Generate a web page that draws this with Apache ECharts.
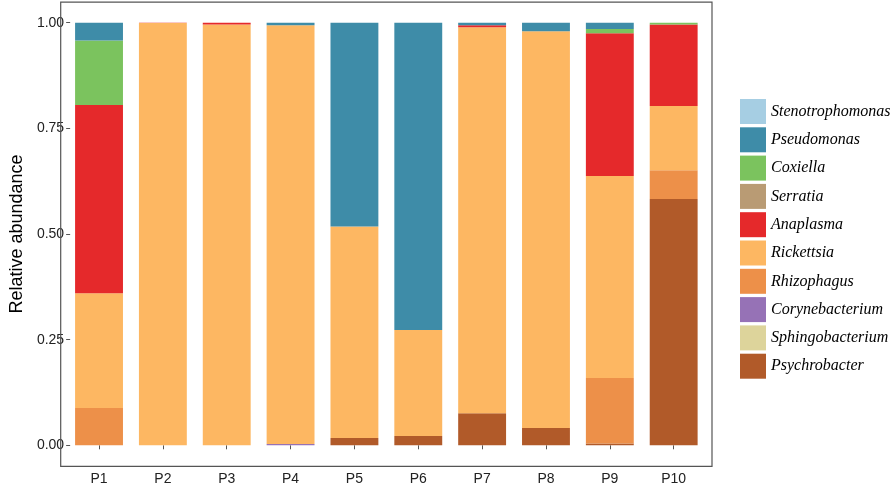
<!DOCTYPE html>
<html>
<head>
<meta charset="utf-8">
<script src="https://cdn.jsdelivr.net/npm/echarts@6/dist/echarts.min.js"></script>
<style>html,body{margin:0;padding:0;background:#fff;}#c{width:896px;height:488px;}</style>
</head>
<body>
<div id="c"></div>
<script>
// Categories (samples)
const samples = ['P1','P2','P3','P4','P5','P6','P7','P8','P9','P10'];
// Legend order (top to bottom)
const legendOrder = ['Stenotrophomonas','Pseudomonas','Coxiella','Serratia','Anaplasma','Rickettsia','Rhizophagus','Corynebacterium','Sphingobacterium','Psychrobacter'];
// Relative abundance per genus (P1..P10)
const Psychrobacter    = [0,     0,     0,     0,     0.017, 0.022, 0.076, 0.041, 0.004, 0.583];
const Sphingobacterium = [0,     0,     0,     0,     0,     0,     0,     0,     0,     0];
const Corynebacterium  = [0,     0,     0,     0.003, 0,     0,     0,     0,     0,     0];
const Rhizophagus      = [0.088, 0,     0,     0,     0,     0,     0,     0,     0.155, 0.068];
const Rickettsia       = [0.272, 0.999, 0.996, 0.991, 0.501, 0.251, 0.913, 0.939, 0.478, 0.152];
const Anaplasma        = [0.445, 0.001, 0.004, 0,     0,     0,     0.005, 0,     0.338, 0.193];
const Serratia         = [0,     0,     0,     0,     0,     0,     0,     0,     0,     0];
const Coxiella         = [0.153, 0,     0,     0,     0,     0,     0,     0,     0.010, 0.004];
const Pseudomonas      = [0.042, 0,     0,     0.006, 0.482, 0.727, 0.006, 0.020, 0.015, 0];
const Stenotrophomonas = [0,     0,     0,     0,     0,     0,     0,     0,     0,     0];
// Y tick labels
const yTicks = [0, 0.25, 0.5, 0.75, 1];

const stackOrder = [
  ['Psychrobacter', Psychrobacter, '#b15a29'],
  ['Sphingobacterium', Sphingobacterium, '#ddd49b'],
  ['Corynebacterium', Corynebacterium, '#9672b6'],
  ['Rhizophagus', Rhizophagus, '#ed9049'],
  ['Rickettsia', Rickettsia, '#fdb762'],
  ['Anaplasma', Anaplasma, '#e5292b'],
  ['Serratia', Serratia, '#b99b74'],
  ['Coxiella', Coxiella, '#7bc35e'],
  ['Pseudomonas', Pseudomonas, '#3e8ca8'],
  ['Stenotrophomonas', Stenotrophomonas, '#a6cee3']
];

const font = 'Liberation Sans, Arial, sans-serif';
const chart = echarts.init(document.getElementById('c'), null, {renderer: 'canvas'});
const panelLeft = 60.7, panelRight = 712;
const gridLeft = 67.1, gridRight = 705.6, gridTop = 22.7, gridBottom = 445.3;
chart.setOption({
  animation: false,
  backgroundColor: '#ffffff',
  grid: [
    {left: gridLeft, top: gridTop, width: gridRight - gridLeft, height: gridBottom - gridTop},
    {left: panelLeft, top: gridTop, width: panelRight - panelLeft, height: gridBottom - gridTop}
  ],
  xAxis: [{
    type: 'category',
    gridIndex: 0,
    data: samples,
    offset: 21,
    axisLine: {show: false},
    axisTick: {show: true, alignWithLabel: true, length: 4, lineStyle: {color: '#555', width: 1}},
    axisLabel: {color: '#222', fontSize: 14, fontFamily: font, margin: 6}
  }, {
    type: 'value', gridIndex: 1, show: false, min: 0, max: 1
  }],
  yAxis: [{
    type: 'value', gridIndex: 0, show: false, min: 0, max: 1
  }, {
    type: 'value',
    gridIndex: 1,
    min: 0, max: 1, interval: 0.25,
    name: 'Relative abundance',
    nameLocation: 'middle',
    nameGap: 38,
    nameTextStyle: {color: '#000', fontSize: 18, fontFamily: font},
    axisLine: {show: false},
    axisTick: {show: true, length: 4, lineStyle: {color: '#555', width: 1}},
    splitLine: {show: false},
    axisLabel: {color: '#222', fontSize: 14, fontFamily: font, margin: 6,
      formatter: v => yTicks.indexOf(v) >= 0 ? v.toFixed(2) : ''}
  }],
  legend: {
    orient: 'vertical',
    left: 735, top: 94,
    itemWidth: 26, itemHeight: 25, itemGap: 3.3,
    icon: 'rect',
    data: legendOrder,
    textStyle: {fontFamily: 'Liberation Serif, Times New Roman, serif', fontStyle: 'italic', fontSize: 16, color: '#000'}
  },
  graphic: [{
    type: 'rect',
    shape: {x: panelLeft, y: 2.2, width: panelRight - panelLeft, height: 464.2},
    style: {fill: 'none', stroke: '#555', lineWidth: 1.2},
    silent: true, z: 100
  }],
  series: stackOrder.map(([name, vals, color]) => ({
    name: name,
    type: 'bar',
    xAxisIndex: 0, yAxisIndex: 0,
    stack: 'total',
    barWidth: '75%',
    data: vals,
    itemStyle: {color: color},
    emphasis: {disabled: true}
  }))
});
</script>
</body>
</html>
